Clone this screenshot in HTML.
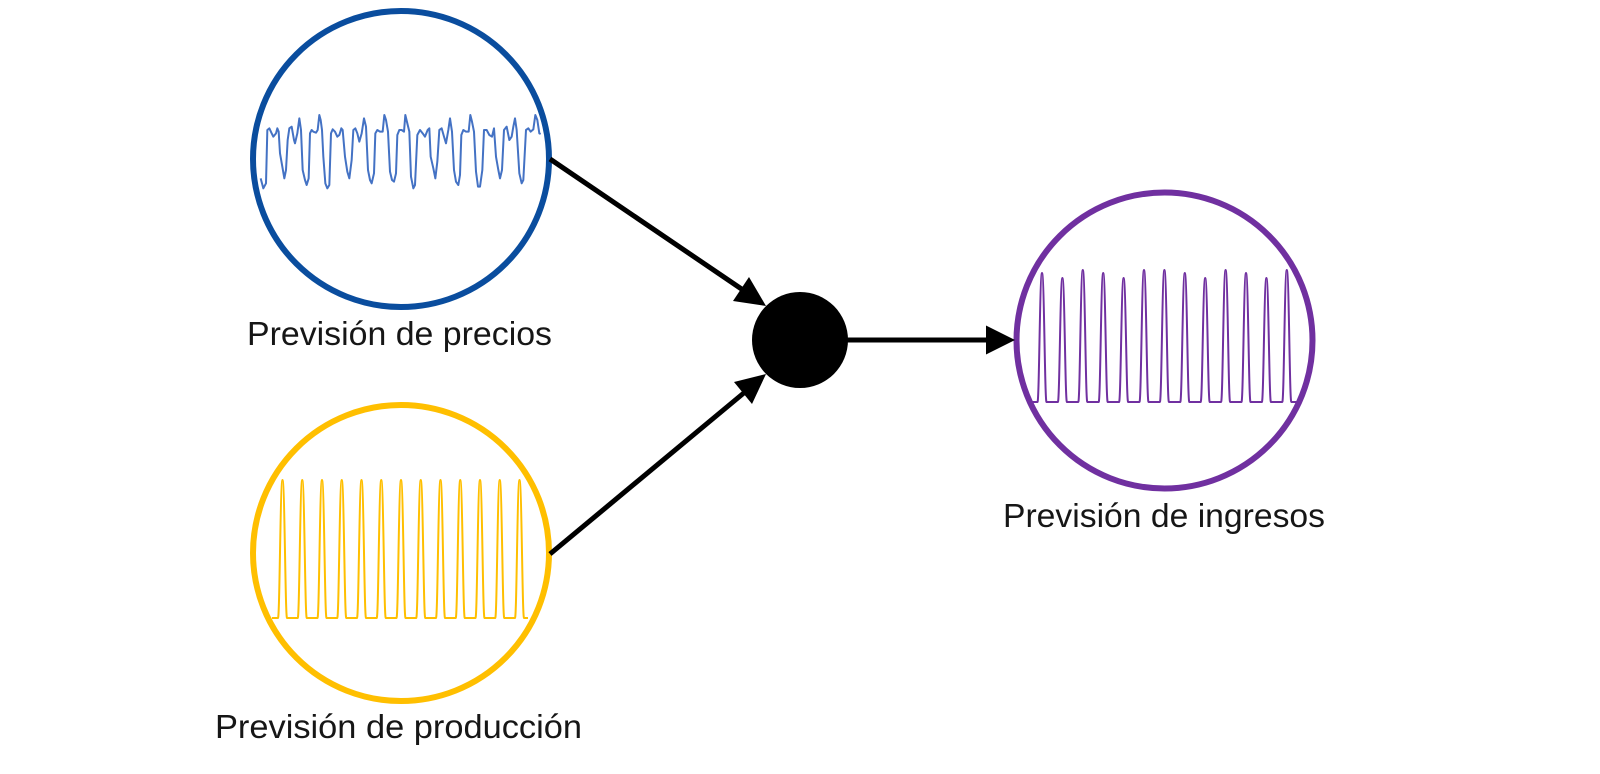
<!DOCTYPE html>
<html>
<head>
<meta charset="utf-8">
<style>
  html, body { margin: 0; padding: 0; background: #ffffff; }
  body { width: 1600px; height: 774px; overflow: hidden; }
  svg { display: block; }
  text { font-family: "Liberation Sans", "DejaVu Sans", sans-serif; fill: #161616; }
</style>
</head>
<body>
<svg width="1600" height="774" viewBox="0 0 1600 774" xmlns="http://www.w3.org/2000/svg">
  <rect x="0" y="0" width="1600" height="774" fill="#ffffff"/>

  <!-- Circles -->
  <circle cx="401" cy="159" r="148" fill="none" stroke="#0A4D9E" stroke-width="6"/>
  <circle cx="401" cy="553" r="148" fill="none" stroke="#FFBF00" stroke-width="6"/>
  <circle cx="1164.5" cy="340.5" r="148" fill="none" stroke="#7030A0" stroke-width="6"/>

  <!-- Blue waveform -->
  <g transform="translate(240 90) scale(0.33333)">
    <polyline fill="none" stroke="#4472C4" stroke-width="6" stroke-linejoin="round" points="
      62,265 70,295 78,280 82,120 88,115 95,130 100,140 108,130 112,115 116,125 120,190 127,230 133,265 138,240 143,150 148,115 155,110 162,150 165,160 172,130 178,85 183,120 188,240 195,270 200,285 206,265 210,130 215,120 220,125 228,128 233,120 238,75 242,90 246,120 250,200 256,280 262,295 268,285 273,130 278,118 285,125 292,140 298,135 304,115 308,120 315,200 322,245 328,265 335,210 340,120 346,115 352,130 358,155 365,130 372,85 378,110 384,240 390,270 395,280 402,250 406,130 412,120 420,125 428,125 433,75 438,90 444,125 450,245 456,270 462,275 468,250 472,135 478,120 485,120 492,125 496,75 502,100 508,125 513,260 520,295 525,285 532,135 540,120 548,130 555,140 563,120 568,115 572,200 580,235 586,265 592,215 598,120 605,115 612,140 618,160 625,120 630,85 636,125 642,240 648,275 655,285 660,255 664,135 670,120 678,125 686,125 691,75 696,95 702,125 708,245 714,290 720,290 727,240 732,120 740,120 748,135 756,140 762,115 768,200 775,240 780,265 786,240 792,120 800,110 808,150 815,140 820,110 825,85 830,120 838,250 845,280 850,270 858,120 865,115 872,125 880,118 886,75 892,90 898,130 902,132"/>
  </g>

  <!-- Yellow waveform -->
  <path fill="none" stroke="#FFBF00" stroke-width="2" stroke-linejoin="round" d="
    M272,618 H278
    c1.7,0 2.3,-138 4.5,-138 c2.2,0 2.8,138 4.5,138 h10.75
    c1.7,0 2.3,-138 4.5,-138 c2.2,0 2.8,138 4.5,138 h10.75
    c1.7,0 2.3,-138 4.5,-138 c2.2,0 2.8,138 4.5,138 h10.75
    c1.7,0 2.3,-138 4.5,-138 c2.2,0 2.8,138 4.5,138 h10.75
    c1.7,0 2.3,-138 4.5,-138 c2.2,0 2.8,138 4.5,138 h10.75
    c1.7,0 2.3,-138 4.5,-138 c2.2,0 2.8,138 4.5,138 h10.75
    c1.7,0 2.3,-138 4.5,-138 c2.2,0 2.8,138 4.5,138 h10.75
    c1.7,0 2.3,-138 4.5,-138 c2.2,0 2.8,138 4.5,138 h10.75
    c1.7,0 2.3,-138 4.5,-138 c2.2,0 2.8,138 4.5,138 h10.75
    c1.7,0 2.3,-138 4.5,-138 c2.2,0 2.8,138 4.5,138 h10.75
    c1.7,0 2.3,-138 4.5,-138 c2.2,0 2.8,138 4.5,138 h10.75
    c1.7,0 2.3,-138 4.5,-138 c2.2,0 2.8,138 4.5,138 h10.75
    c1.7,0 2.3,-138 4.5,-138 c2.2,0 2.8,138 4.5,138
    H528"/>

  <!-- Purple waveform -->
  <path fill="none" stroke="#7030A0" stroke-width="2" stroke-linejoin="round" d="
    M1032,402 H1037.5
    c1.7,0 2.3,-129 4.5,-129 c2.2,0 2.8,129 4.5,129 h11.4
    c1.7,0 2.3,-124 4.5,-124 c2.2,0 2.8,124 4.5,124 h11.4
    c1.7,0 2.3,-132 4.5,-132 c2.2,0 2.8,132 4.5,132 h11.4
    c1.7,0 2.3,-129 4.5,-129 c2.2,0 2.8,129 4.5,129 h11.4
    c1.7,0 2.3,-124 4.5,-124 c2.2,0 2.8,124 4.5,124 h11.4
    c1.7,0 2.3,-132 4.5,-132 c2.2,0 2.8,132 4.5,132 h11.4
    c1.7,0 2.3,-132 4.5,-132 c2.2,0 2.8,132 4.5,132 h11.4
    c1.7,0 2.3,-129 4.5,-129 c2.2,0 2.8,129 4.5,129 h11.4
    c1.7,0 2.3,-124 4.5,-124 c2.2,0 2.8,124 4.5,124 h11.4
    c1.7,0 2.3,-132 4.5,-132 c2.2,0 2.8,132 4.5,132 h11.4
    c1.7,0 2.3,-129 4.5,-129 c2.2,0 2.8,129 4.5,129 h11.4
    c1.7,0 2.3,-124 4.5,-124 c2.2,0 2.8,124 4.5,124 h11.4
    c1.7,0 2.3,-132 4.5,-132 c2.2,0 2.8,132 4.5,132
    H1298"/>

  <!-- Connectors -->
  <line x1="550" y1="159" x2="743" y2="290" stroke="#000" stroke-width="5"/>
  <polygon points="766,306 733,301 749,277" fill="#000"/>

  <line x1="550" y1="554" x2="745" y2="392" stroke="#000" stroke-width="5"/>
  <polygon points="766,374 752,404 734,382" fill="#000"/>

  <circle cx="800" cy="340" r="48" fill="#000"/>

  <line x1="845" y1="340" x2="988" y2="340" stroke="#000" stroke-width="5"/>
  <polygon points="1015,340 986,325.5 986,354.5" fill="#000"/>

  <!-- Labels -->
  <text x="399.5" y="345" font-size="33" text-anchor="middle" textLength="305" lengthAdjust="spacingAndGlyphs">Previsión de precios</text>
  <text x="398.5" y="738" font-size="33" text-anchor="middle" textLength="367" lengthAdjust="spacingAndGlyphs">Previsión de producción</text>
  <text x="1164" y="527" font-size="33" text-anchor="middle" textLength="322" lengthAdjust="spacingAndGlyphs">Previsión de ingresos</text>
</svg>
</body>
</html>
